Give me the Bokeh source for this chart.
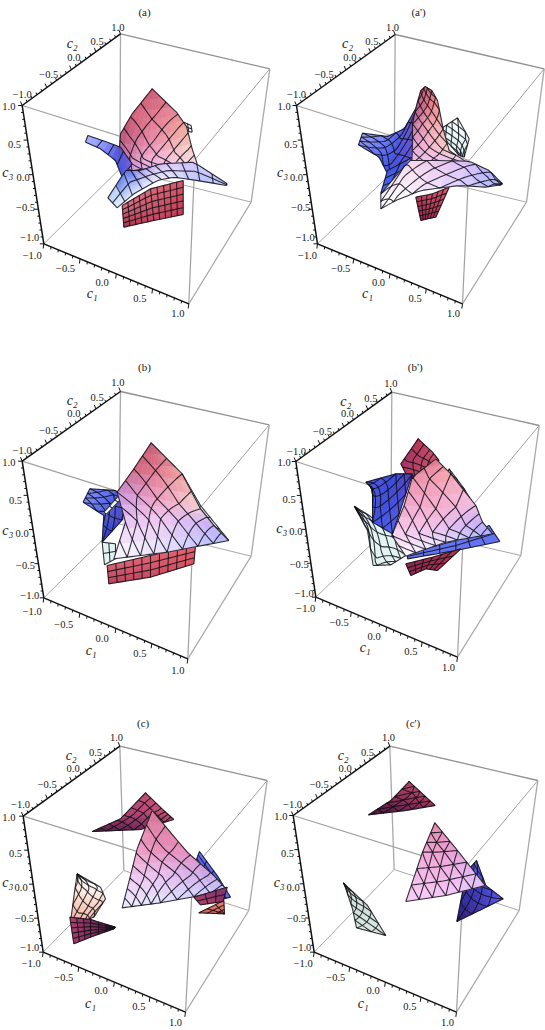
from bokeh.plotting import figure
from bokeh.layouts import column, row
from bokeh.models import ColumnDataSource
from bokeh.core.properties import value
from bokeh.embed import file_html
from bokeh.resources import INLINE
import numpy as np

# ---------- shared palette ----------
RED = "#c85a72"; ROSE = "#e07890"; PINK = "#f0a0c0"; PEACH = "#f8d0c8"
LILAC = "#e0c0f8"; PALE = "#e4e4ff"; WHITE = "#fafaff"; BLUE = "#6070f0"; DEEP = "#3848d0"
SKY = "#a8b0ff"; CYAN = "#e2f4f2"; MAROON = "#802850"; DARK = "#501840"; CRIM = "#b03050"

TICK_VALUES = [-1.0, -0.5, 0.0, 0.5, 1.0]
TICK_TEXT = ["\u22121.0", "\u22120.5", "0.0", "0.5", "1.0"]
MINOR_VALUES = [-0.9, -0.8, -0.7, -0.6, -0.4, -0.3, -0.2, -0.1, 0.1, 0.2, 0.3, 0.4, 0.6, 0.7, 0.8, 0.9]

# ---------- box corners of each panel ----------
BOX_A  = dict(A=(65,315), B=(360,100), C=(808,205), D=(752,605), E=(565,910), F=(130,730), H=(358,505), N=(583,478))
BOX_AP = dict(A=(72,315), B=(368,102), C=(815,205), D=(762,605), E=(570,910), F=(135,730), H=(365,510), N=(590,480))
BOX_B  = dict(A=(65,347), B=(360,138), C=(806,238), D=(752,632), E=(562,940), F=(130,757), H=(355,535), N=(580,510))
BOX_BP = dict(A=(70,348), B=(358,140), C=(800,240), D=(745,630), E=(555,935), F=(130,755), H=(355,540), N=(575,510))
BOX_C  = dict(A=(68,362), B=(358,152), C=(800,255), D=(745,645), E=(555,950), F=(128,770), H=(370,525), N=(578,520))
BOX_CP = dict(A=(62,360), B=(352,152), C=(796,255), D=(740,645), E=(552,950), F=(125,770), H=(365,522), N=(575,520))

# ---------- tick label places (values -1, -.5, 0, .5, 1) ----------
LAB_A  = dict(c2=[(65,282),(145,222),(220,170),(290,122),(352,80)], c3=[(88,712),(75,622),(68,532),(42,432),(25,318)],
              c1=[(95,765),(195,805),(305,845),(418,893),(532,940)], n2=(215,130), n3=(22,515), n1=(275,880), title=(432,33), name="(a)")
LAB_AP = dict(c2=[(72,282),(155,222),(232,170),(298,122),(360,80)], c3=[(98,712),(85,622),(72,532),(55,432),(35,318)],
              c1=[(105,765),(205,805),(318,845),(428,893),(543,940)], n2=(225,130), n3=(30,515), n1=(285,880), title=(438,33), name="(a')")
LAB_B  = dict(c2=[(65,315),(145,255),(220,203),(290,155),(352,112)], c3=[(88,750),(75,660),(65,565),(45,465),(25,350)],
              c1=[(95,797),(190,838),(305,878),(418,925),(532,975)], n2=(215,165), n3=(22,555), n1=(272,915), title=(432,65), name="(b)")
LAB_BP = dict(c2=[(72,317),(150,258),(225,205),(295,158),(355,115)], c3=[(95,745),(80,658),(70,558),(50,462),(35,350)],
              c1=[(100,790),(200,830),(305,872),(415,918),(528,965)], n2=(220,168), n3=(28,550), n1=(278,905), title=(428,65), name="(b')")
LAB_C  = dict(c2=[(60,327),(140,268),(218,218),(285,170),(348,125)], c3=[(88,755),(72,670),(62,577),(45,475),(25,365)],
              c1=[(92,805),(190,845),(302,885),(415,933),(525,980)], n2=(212,180), n3=(22,562), n1=(270,925), title=(428,82), name="(c)")
LAB_CP = dict(c2=[(60,327),(140,268),(218,218),(285,172),(348,125)], c3=[(88,755),(72,670),(62,577),(45,475),(25,362)],
              c1=[(92,805),(190,845),(302,885),(412,933),(525,980)], n2=(212,180), n3=(20,562), n1=(272,925), title=(422,82), name="(c')")

# ---------- surface sheets: control rows, colour rows, mesh counts, mesh kind ----------
def S(pts, cols, nu, nv, kind="grid"):
    return dict(pts=pts, cols=cols, nu=nu, nv=nv, kind=kind)

SURF_A = [
    S([[(550,365),(572,375)],[(555,392),(575,395)]], [[CYAN,WHITE],[WHITE,CYAN]], 2, 2),
    S([[(365,615),(450,565),(548,540)],[(370,680),(460,660),(548,642)]], [["#d87080","#d86878","#d85868"],["#a83048","#c04860","#c03850"]], 10, 5),
    S([[(455,265)]*3,[(395,340),(455,345),(528,335)],[(360,400),(450,420),(558,378)],[(355,470),(440,475),(575,445)],[(365,515),(470,500),(590,490)]],
      [[RED]*3,["#d4607a",ROSE,"#e88898"],["#b85070","#e888a8","#f0a898"],["#c070a0","#f0a8d0",PEACH],["#c090e0","#f0c0f0","#f8e0e0"]], 7, 7, "tri"),
    S([[(262,405),(255,425)],[(320,425),(300,445)],[(360,440),(345,480)],[(395,490),(365,530)]],
      [[SKY,SKY],["#8890ff","#8890ff"],["#5050c8","#5058e0"],["#8060e0","#4058e0"]], 1, 4),
    S([[(322,592),(350,622)],[(375,510),(400,580)],[(420,510),(470,540)],[(480,490),(520,530)],[(580,485),(590,540)],[(680,550),(678,555)]],
      [["#e0f0ff"]*2,["#3858e8","#d8e4ff"],["#b0a0f0","#f0f0ff"],["#e0c8f8",PALE],["#d0c8ff","#b8c0ff"],["#c0c8ff"]*2], 2, 11),
]
SURF_AP = [
    S([[(555,352),(505,385)],[(590,415),(525,425)],[(575,470),(560,465)]], [[WHITE,CYAN],[CYAN,CYAN]], 3, 3, "diag"),
    S([[(430,590),(480,580),(530,560)],[(445,660),(465,655),(490,650)]], [["#b03858","#d04860","#d85868"],["#902040","#a02848","#b03050"]], 6, 5),
    S([[(270,398),(258,433)],[(345,408),(320,470)],[(395,385),(345,520)],[(435,315),(420,475)]],
      [[SKY,"#8890ff"],["#7080ff","#5868f0"],["#5058e0","#4050e0"],["#7050c0","#6050d8"]], 3, 4, "diag"),
    S([[(345,510),(420,470)],[(325,578),(362,570)]], [["#4058e8","#4850d8"],["#4060f0","#5070f0"]], 2, 3),
    S([[(445,270),(458,258),(478,270)],[(432,315),(465,315),(495,300)],[(420,370),(465,370),(512,385)],[(420,430),(470,440),(530,450)],[(418,490),(490,490),(590,490)]],
      [["#d06078",RED,"#d86870"],["#b05890","#e07080","#f09090"],["#c070a0","#f0a0b0","#f8b8b0"],["#e0a0d8","#f8b8d0",PEACH],["#f0c0e8","#f0c8f0","#e0c8f0"]], 3, 6, "diag"),
    S([[(325,580),(325,625)],[(410,480),(370,600)],[(490,480),(445,570)],[(590,482),(560,555)],[(650,510),(640,560)],[(690,550),(685,553)]],
      [["#ffffff"]*2,["#f8d8f0","#ffffff"],["#f0c8f0","#f8e8f8"],["#d8c0f8","#e0d0ff"],["#b0b0ff","#c0c0ff"],["#b0b0ff"]*2], 2, 6, "diag"),
]
SURF_B = [
    S([[(320,660),(450,630),(585,600)],[(325,715),(450,695),(580,655)]], [["#d86070","#e06070","#e86068"],["#b84058","#c84860","#d85060"]], 10, 3),
    S([[(305,590),(345,595)],[(312,658),(345,640)]], [[CYAN,CYAN],[CYAN,CYAN]], 2, 2),
    S([[(545,385),(530,400)],[(600,480),(590,500)],[(685,585),(640,560)]], [[CYAN,WHITE],[CYAN,CYAN]], 3, 6),
    S([[(268,430),(248,470)],[(345,435),(310,510)],[(395,490),(305,590)]], [["#8090ff","#8090ff"],["#5060e8","#5060e0"],["#5848c8","#3040c8"]], 3, 3, "diag"),
    S([[(310,500),(318,506)],[(360,445),(370,452)]], [[CYAN,WHITE],[CYAN,WHITE]], 1, 3),
    S([[(452,292)]*3,[(400,370),(465,375),(545,385)],[(350,440),(470,460),(600,490)],[(375,530),(480,520),(640,540)],[(340,640),(500,620),(685,585)]],
      [[RED]*3,["#d06880",ROSE,"#f0a0a0"],["#c890d8",PINK,"#f8d8d8"],["#e8c8f8","#f0c8f0","#c8b0f8"],["#ffffff",PALE,"#b0b8ff"]], 8, 8, "tri"),
]
SURF_BP = [
    S([[(405,625),(405,640)],[(550,585),(550,615)],[(650,540),(682,588)]], [[BLUE,BLUE],[BLUE,BLUE]], 2, 6),
    S([[(530,370),(520,390)],[(575,430),(560,440)],[(615,495),(600,490)]], [[CYAN,CYAN],[CYAN,CYAN]], 2, 4, "diag"),
    S([[(400,655),(480,635),(565,610)],[(415,690),(460,670),(495,675)]], [[MAROON,"#a02848","#b83050"],["#902040","#a02848","#a02848"]], 6, 3),
    S([[(245,482),(250,490)],[(290,510),(285,555)],[(355,560),(302,660)],[(400,630),(355,658)]], [[CYAN]*2,[CYAN]*2,[CYAN]*2,[CYAN]*2], 3, 4, "diag"),
    S([[(437,280)]*2,[(385,355),(480,320)],[(410,405),(500,345)]], [[CRIM,CRIM],["#a03060","#c84868"],["#b84060","#c85068"]], 5, 5, "tri"),
    S([[(280,410),(300,430)],[(370,385),(300,530)],[(420,385),(360,565)]], [["#5058e8","#5058e8"],["#3848d8","#4050e0"],["#5040c0","#5060f0"]], 3, 4, "diag"),
    S([[(490,340)]*3,[(420,395),(470,400),(535,385)],[(395,480),(490,490),(610,480)],[(358,570),(480,560),(630,530)],[(400,632),(520,590),(660,565)]],
      [[ROSE]*3,["#e890a8","#f09ab0","#f8a8b0"],["#f0a8d0","#f8b0d0","#f0c0e8"],["#f8d0f0","#f0c8f0","#c8b0f8"],["#ffffff","#e8e0ff",SKY]], 8, 8, "tri"),
]
SURF_C = [
    S([[(595,652),(670,615)],[(672,655),(672,655)]], [["#c85848","#e88070"],["#e07060","#e07060"]], 3, 3),
    S([[(597,468),(585,500)],[(650,540),(630,570)],[(690,605),(650,615)]], [[BLUE,"#6060e8"],["#4858e8","#5860e0"],[BLUE,DEEP]], 3, 5),
    S([[(435,292)]*3,[(360,370),(430,345),(490,345)],[(275,408),(420,402),(520,372)]],
      [["#c04870"]*3,["#a03868","#c04878","#c05070"],[DARK,"#702858","#b04868"]], 7, 7, "tri"),
    S([[(455,345)]*3,[(410,460),(470,460),(560,470)],[(385,560),(500,540),(640,540)],[(365,637),(480,622),(680,585)]],
      [["#d87898"]*3,["#f0a0c8","#e890b8","#e890c0"],["#f0d0f8","#e8c0f0","#c8a8e8"],["#f0f0ff",PALE,"#c8c8ff"]], 8, 8, "tri"),
    S([[(580,605),(680,575)],[(600,628),(668,618)]], [["#a03870","#803870"],["#b04060","#903060"]], 3, 2),
    S([[(230,535),(230,535)],[(222,590),(300,575)],[(212,665),(315,610)],[(240,680),(280,665)]],
      [["#ffffff"]*2,["#fce0d0","#ffffff"],["#f8b8a8","#fce0d0"],["#f8c0b0"]*2], 3, 4, "diag"),
    S([[(208,665),(270,672),(345,695)],[(220,745),(270,725),(340,700)]], [["#b04070","#802858",DARK],["#a03868",MAROON,DARK]], 6, 5),
]
SURF_CP = [
    S([[(410,258)]*3,[(355,315),(420,300),(450,295)],[(288,358),(400,345),(488,330)]],
      [["#b84068"]*3,[MAROON,"#a83860","#b84060"],["#401030","#702050","#a03050"]], 5, 5, "tri3"),
    S([[(612,495),(590,520)],[(640,570),(570,590)],[(692,610),(553,678)]],
      [["#6060e8","#5050d8"],["#4040c8","#3030a8"],["#5858e8","#301878"]], 3, 3, "diag"),
    S([[(487,382)]*3,[(450,470),(495,470),(555,465)],[(400,618),(520,600),(638,570)]],
      [["#e088a8"]*3,["#f0a8d8","#f0a0d0","#e8a0d8"],["#f8d0f8","#f8c8f8","#e0c8ff"]], 6, 6, "tri3"),
    S([[(212,562),(215,565)],[(285,630),(240,640)],[(340,720),(252,697)]], [["#d8e8e0"]*2,["#d0e0d8"]*2,["#d8e8e0"]*2], 2, 5, "diag"),
]

# ---------- helpers ----------
def hex2rgb(c):
    return np.array([int(c[i:i+2], 16) for i in (1, 3, 5)], float)

def grid_eval(g, u, v):
    """Bilinear look-up in a grid of arrays; u runs across a row, v down the rows."""
    rows = len(g); cols = len(g[0])
    fv = min(max(v, 0), 1) * (rows - 1); fu = min(max(u, 0), 1) * (cols - 1)
    i = min(int(fv), rows - 2) if rows > 1 else 0
    j = min(int(fu), cols - 2) if cols > 1 else 0
    a = fv - i; b = fu - j
    return ((1-a)*(1-b)*g[i][j] + (1-a)*b*g[i][j+1] + a*(1-b)*g[i+1][j] + a*b*g[i+1][j+1])

def mesh_lines(s):
    """Parameter curves (u(t), v(t)) of the mesh of one sheet."""
    nu, nv, kind = s["nu"], s["nv"], s["kind"]
    ts = np.linspace(0, 1, 25)
    out = [[(t, 0.0) for t in ts], [(t, 1.0) for t in ts], [(0.0, t) for t in ts], [(1.0, t) for t in ts]]
    if kind == "grid":
        out += [[(k / nu, t) for t in ts] for k in range(1, nu)]
        out += [[(t, k / nv) for t in ts] for k in range(1, nv)]
    elif kind == "diag":
        for k in range(-nv + 1, nu):
            lo, hi = max(0.0, -k / nv), min(1.0, (nu - k) / nv)
            out.append([((k + (lo + (hi-lo)*t) * nv) / nu, lo + (hi-lo)*t) for t in ts])
        for k in range(1, nu + nv):
            lo, hi = max(0.0, (k - nu) / nv), min(1.0, k / nv)
            out.append([((k - (lo + (hi-lo)*t) * nv) / nu, lo + (hi-lo)*t) for t in ts])
    else:  # triangular sheet: families parallel to its two long sides
        for k in range(1, nu):
            c = k / nu
            vs = [c + (1 - c) * t for t in ts]
            out.append([(c / v, v) for v in vs])
            out.append([(1 - c / v, v) for v in vs])
        if kind == "tri3":
            out += [[(t, k / nu) for t in ts] for k in range(1, nu)]
    return out

def draw_surface(p, s):
    P = [[np.array(q, float) for q in r] for r in s["pts"]]
    C = [[hex2rgb(c) for c in r] for r in s["cols"]]
    xs, ys, fills = [], [], []
    n = 10
    for i in range(n):
        for j in range(n):
            c = [grid_eval(P, (j+dj)/n, (i+di)/n) for dj, di in ((0,0),(1,0),(1,1),(0,1))]
            xs.append([q[0] for q in c]); ys.append([q[1] for q in c])
            col = grid_eval(C, (j+.5)/n, (i+.5)/n)
            fills.append("#%02x%02x%02x" % tuple(int(round(k)) for k in col))
    p.patches("x", "y", fill_color="f", line_color="f", line_width=0.6,
              source=ColumnDataSource(dict(x=xs, y=ys, f=fills)))
    lx, ly = [], []
    for curve in mesh_lines(s):
        q = [grid_eval(P, u, v) for u, v in curve]
        lx.append([k[0] for k in q]); ly.append([k[1] for k in q])
    p.multi_line(lx, ly, line_color="#101018", line_width=1.1, line_alpha=0.85)

def panel(box, lab, surfs, width, height):
    p = figure(width=width, height=height, x_range=(0, width*3), y_range=(height*3, 0),
               x_axis_location=None, y_axis_location=None, toolbar_location=None,
               output_backend="svg", min_border=0, outline_line_color=None, background_fill_color="white")
    p.xgrid.visible = False; p.ygrid.visible = False
    for a, b, col, w in (("B","H","#a8a8a8",1.3),("H","F","#a8a8a8",1.0),("H","D","#a8a8a8",1.0),
                         ("A","N","#a0a0a0",1.2),("C","N","#a0a0a0",1.0),("E","N","#a0a0a0",1.2),
                         ("B","C","#909090",1.3),("C","D","#a8a8a8",1.3),("D","E","#a8a8a8",1.2)):
        p.line([box[a][0], box[b][0]], [box[a][1], box[b][1]], line_color=col, line_width=w)
    for s in surfs:
        draw_surface(p, s)
    for a, b, off in (("F","E",(-2,14)),("A","B",(-5,-12)),("F","A",(-12,0))):
        pa, pb = np.array(box[a], float), np.array(box[b], float)
        p.line([pa[0], pb[0]], [pa[1], pb[1]], line_color="#101010", line_width=1.5)
        ax, ay = [], []
        for v in MINOR_VALUES + TICK_VALUES:
            q = pa + (pb - pa) * (v + 1) / 2
            sc = 1.0 if v in TICK_VALUES else 0.55
            ax.append([q[0], q[0] + off[0]*sc]); ay.append([q[1], q[1] + off[1]*sc])
        p.multi_line(ax, ay, line_color="#101010", line_width=1.0)
    tx, ty, tt = [], [], []
    for key in ("c1", "c2", "c3"):
        for (x, y), t in zip(lab[key], TICK_TEXT):
            tx.append(x); ty.append(y); tt.append(t)
    p.text(tx, ty, text=tt, text_font=value("Liberation Serif"), text_font_size="10.5px",
           text_align="center", text_baseline="middle", text_color="#181818")
    for key, t in (("n1", "c\u2081"), ("n2", "c\u2082"), ("n3", "c\u2083")):
        p.text([lab[key][0]], [lab[key][1]], text=[t], text_font=value("Liberation Serif"), text_font_size="14px",
               text_font_style="italic", text_align="center", text_baseline="middle", text_color="#181818")
    p.text([lab["title"][0]], [lab["title"][1]], text=[lab["name"]], text_font=value("Liberation Serif"),
           text_font_size="11px", text_align="center", text_baseline="middle", text_color="#181818")
    return p

H1, H2, H3 = 345, 350, 335
layout = column(
    row(panel(BOX_A, LAB_A, SURF_A, 272, H1), panel(BOX_AP, LAB_AP, SURF_AP, 273, H1), spacing=0),
    row(panel(BOX_B, LAB_B, SURF_B, 272, H2), panel(BOX_BP, LAB_BP, SURF_BP, 273, H2), spacing=0),
    row(panel(BOX_C, LAB_C, SURF_C, 272, H3), panel(BOX_CP, LAB_CP, SURF_CP, 273, H3), spacing=0),
    spacing=0)

open("out.html", "w").write(file_html(layout, INLINE))
